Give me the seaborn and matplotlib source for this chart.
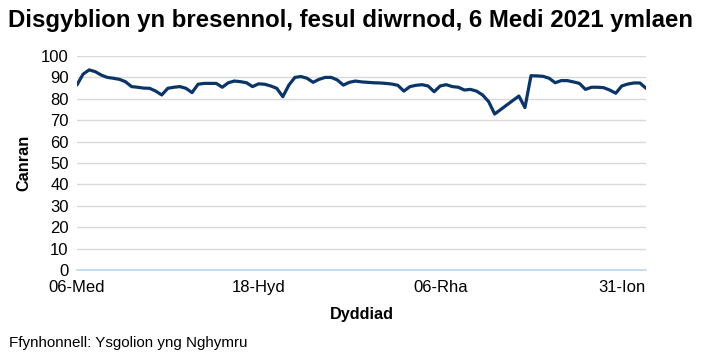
import numpy as np
import pandas as pd
import matplotlib
matplotlib.use("Agg")
import matplotlib.pyplot as plt
import seaborn as sns

# ---- data ----
title = "Disgyblion yn bresennol, fesul diwrnod, 6 Medi 2021 ymlaen"
x_label = "Dyddiad"
y_label = "Canran"
source = "Ffynhonnell: Ysgolion yng Nghymru"
welsh_months = {9: "Med", 10: "Hyd", 11: "Tach", 12: "Rha", 1: "Ion", 2: "Chwe"}
holidays = ["2021-10-25", "2021-10-26", "2021-10-27", "2021-10-28", "2021-10-29",
            "2021-12-21", "2021-12-22", "2021-12-23", "2021-12-24", "2021-12-27",
            "2021-12-28", "2021-12-29", "2021-12-30", "2021-12-31", "2022-01-03"]
# attendance % per school day (None = no data)
attendance = [
    86.5, 91.5, 93.5, 92.7, 91.1, 90.0, 89.6, 89.1, 88.0, 85.7,
    85.4, 85.0, 84.9, 83.6, 81.8, 84.9, 85.4, 85.7, 84.9, 82.9,
    86.8, 87.2, 87.2, 87.2, 85.4, 87.5, 88.3, 88.0, 87.5, 85.7,
    87.0, 86.8, 86.0, 84.9, 81.0, 86.4, 90.0, 90.4, 89.6, 87.7,
    89.1, 90.0, 90.0, 88.8, 86.4, 87.7, 88.3, 87.9, 87.7, 87.5,
    87.4, 87.2, 86.9, 86.3, 83.6, 85.7, 86.3, 86.6, 86.0, 83.3,
    86.0, 86.6, 85.7, 85.4, 84.1, 84.4, 83.6, 81.8, 78.7, 72.9,
    None, None, None, 81.3, 75.9, 90.8, 90.7, 90.5, 89.6, 87.5,
    88.5, 88.5, 87.9, 87.2, 84.4, 85.4, 85.4, 85.2, 84.1, 82.6,
    86.0, 86.9, 87.4, 87.4, 84.9,
]
tick_every = 30

# school days (categories)
days = pd.bdate_range("2021-09-06", "2022-02-04")
days = days[~days.isin(pd.to_datetime(holidays))]
day_labels = [f"{d.day:02d}-{welsh_months[d.month]}" for d in days]

df = pd.DataFrame({"pos": np.arange(len(attendance)),
                   "label": day_labels[:len(attendance)],
                   "value": pd.to_numeric(pd.Series(attendance), errors="coerce")})

sns.set_theme(style="white")
plt.rcParams["font.family"] = ["Liberation Sans", "DejaVu Sans"]
plt.rcParams["text.color"] = "black"
plt.rcParams["axes.labelcolor"] = "black"

fig = plt.figure(figsize=(7.1, 3.63), dpi=100)
ax = fig.add_axes([77 / 710, 1 - 270 / 363, (646 - 77) / 710, (270 - 56) / 363])

sns.lineplot(data=df, x="pos", y="value", ax=ax, color="#0b3469",
             linewidth=2.3, estimator=None, sort=True)

ax.set_xlim(0, len(attendance) - 1)
ax.set_ylim(0, 100)
ax.set_yticks(np.arange(0, 101, 10))
ticks = df["pos"].iloc[::tick_every]
ax.set_xticks(ticks)
ax.set_xticklabels(df["label"].iloc[::tick_every])
ax.tick_params(axis="both", length=0, labelsize=12, colors="#000000", pad=6)
ax.tick_params(axis="x", pad=7)
ax.grid(axis="y", color="#d9d9d9", linewidth=1)
ax.set_axisbelow(True)
for s in ["top", "right", "left"]:
    ax.spines[s].set_visible(False)
ax.spines["bottom"].set_color("#bdd7ee")
ax.spines["bottom"].set_linewidth(1.2)

ax.set_xlabel(x_label, fontsize=11.7, fontweight="bold", labelpad=9)
ax.set_ylabel(y_label, fontsize=11.7, fontweight="bold", labelpad=7)

fig.text(8 / 710, 1 - 20 / 363, title, fontsize=17.3, fontweight="bold",
         va="center", ha="left")
fig.text(9 / 710, 1 - 343 / 363, source, fontsize=10.9, va="center", ha="left")

fig.savefig("out.png", dpi=100)
